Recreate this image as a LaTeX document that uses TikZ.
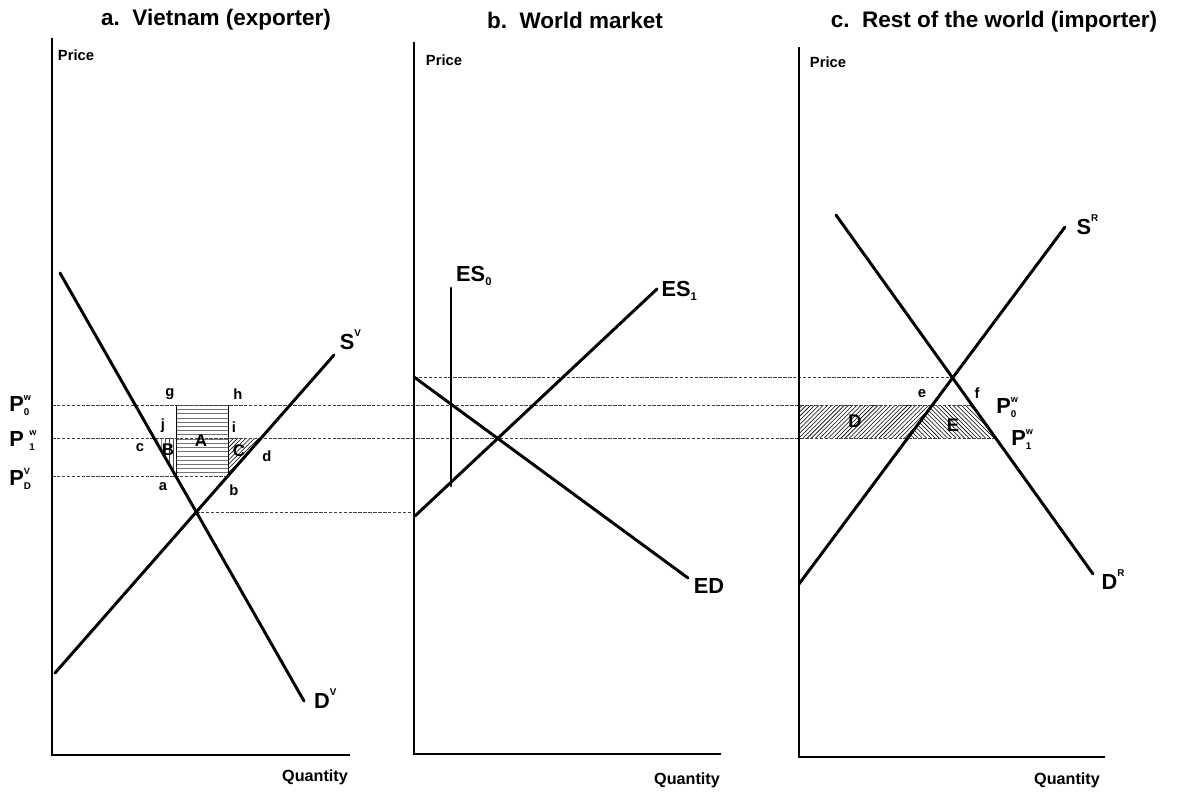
\documentclass[tikz,border=0pt]{standalone}
\usepackage{fontspec}
\setmainfont{Liberation Sans}
\usetikzlibrary{patterns, positioning}

\newcommand{\supof}[2]{#1\smash{\raisebox{0.6em}{\fontsize{7}{7}\selectfont #2}}}
\newcommand{\subof}[2]{#1\smash{\raisebox{-0.2em}{\fontsize{8}{8}\selectfont #2}}}
\newcommand{\pricelab}[4][0pt]{#2\hspace{#1}\makebox[0pt][l]{\smash{\raisebox{0.5em}{\fontsize{6.5}{6.5}\selectfont #3}}}\smash{\raisebox{-0.2em}{\fontsize{7}{7}\selectfont #4}}}

\begin{document}
\begin{tikzpicture}[x=0.025cm, y=-0.025cm,
    curve/.style={line width=2.1pt, line cap=round},
    axis/.style={line width=2.1pt},
    guide/.style={dashed, dash pattern=on 2.5pt off 1pt, line width=0.5pt, black!75},
    title/.style={font=\fontsize{16}{18}\selectfont\bfseries, inner sep=0pt},
    axlab/.style={font=\fontsize{10.5}{12}\selectfont\bfseries, inner sep=0pt},
    lbl/.style={font=\fontsize{15.5}{17}\selectfont\bfseries, inner sep=0pt, anchor=west},
    area/.style={font=\fontsize{12}{13}\selectfont\bfseries, inner sep=0pt},
    pt/.style={font=\fontsize{10.5}{12}\selectfont\bfseries, inner sep=0pt}]
  \useasboundingbox (0,0) rectangle (1190,794);

  % titles
  \node[title] (ta) at (216,20) {a.\ \ Vietnam (exporter)};
  \node[title] (tb) at (575,20) {b.\ \ World market};
  \node[title] (tc) at (994,22) {c.\ \ Rest of the world (importer)};

  % axes
  \coordinate (Ya) at (52,38);   \coordinate (Oa) at (52,755);  \coordinate (Xa) at (350,755);
  \coordinate (Yb) at (414,42);  \coordinate (Ob) at (414,754); \coordinate (Xb) at (721,754);
  \coordinate (Yc) at (799,47);  \coordinate (Oc) at (799,757); \coordinate (Xc) at (1105,757);
  \node[axlab] (pa) at (76,55) {Price};
  \node[axlab] (pb) at (444,60) {Price};
  \node[axlab] (pc) at (828,62) {Price};
  \node[axlab, font=\fontsize{11.5}{12}\selectfont\bfseries] (qa) at (315,777) {Quantity};
  \node[axlab, font=\fontsize{11.5}{12}\selectfont\bfseries] (qb) at (687,780) {Quantity};
  \node[axlab, font=\fontsize{11.5}{12}\selectfont\bfseries] (qc) at (1067,780) {Quantity};

  % curve ends
  \coordinate (DVtop) at (60,273);   \coordinate (DVbot) at (304,701);
  \coordinate (SVbot) at (55,673);   \coordinate (SVtop) at (334,355);
  \coordinate (ES0top) at (451,288); \coordinate (ES0bot) at (451,486);
  \coordinate (ES1bot) at (415,516); \coordinate (ES1top) at (657,289);
  \coordinate (EDtop) at (414,377);  \coordinate (EDbot) at (688,578);
  \coordinate (SRbot) at (799,584);  \coordinate (SRtop) at (1065,227);
  \coordinate (DRtop) at (836,215);  \coordinate (DRbot) at (1093,574);

  % points of panel a and c
  \coordinate (g) at (176,405); \coordinate (h) at (228,405);
  \coordinate (j) at (176,438); \coordinate (i) at (228,438);
  \coordinate (a) at (176,476); \coordinate (b) at (228,476);
  \coordinate (c) at (154,438); \coordinate (d) at (261,438);
  \coordinate (EqV) at (196,512);
  \coordinate (e0) at (932.4,405); \coordinate (e1) at (907.8,438);
  \coordinate (f0) at (972,405);   \coordinate (f1) at (995.7,438);
  \coordinate (EqR) at (952.5,377);

  % areas
  \fill[pattern=horizontal lines, pattern color=black!55] (g) rectangle (b);
  \fill[pattern=vertical lines, pattern color=black!70] (c) -- (j) -- (a) -- cycle;
  \fill[pattern=north east lines] (i) -- (d) -- (b) -- cycle;
  \fill[pattern=north east lines] (799,405) -- (e0) -- (e1) -- (799,438) -- cycle;
  \fill[pattern=north west lines] (e0) -- (f0) -- (f1) -- (e1) -- cycle;
  \draw[line width=0.6pt] (g) -- (a);
  \draw[line width=0.6pt] (h) -- (b);

  % price lines
  \draw[guide] (EDtop) -- (EqR);
  \draw[guide] (52,405) -- (f0);
  \draw[guide] (52,438) -- (f1);
  \draw[guide] (52,476) -- (b);
  \draw[guide] (EqV) -- (414,512);

  \draw[axis] (Ya) -- (Oa) -- (Xa);
  \draw[axis] (Yb) -- (Ob) -- (Xb);
  \draw[axis] (Yc) -- (Oc) -- (Xc);

  \draw[curve] (DVtop) -- (DVbot);
  \draw[curve] (SVbot) -- (SVtop);
  \draw[curve] (ES0top) -- (ES0bot);
  \draw[curve] (ES1bot) -- (ES1top);
  \draw[curve] (EDtop) -- (EDbot);
  \draw[curve] (SRbot) -- (SRtop);
  \draw[curve] (DRtop) -- (DRbot);

  % curve labels
  \node[lbl] (labDV) [right=7pt of DVbot] {\supof{D}{V}};
  \node[lbl] (labSV) [right=4pt of SVtop, yshift=9pt] {\supof{S}{V}};
  \node[lbl] (labES0) [right=3.5pt of ES0top, yshift=10pt] {\subof{ES}{0}};
  \node[lbl] (labES1) [right=3pt of ES1top] {\subof{ES}{1}};
  \node[lbl] (labED) [right=4pt of EDbot, yshift=-6pt] {ED};
  \node[lbl] (labSR) [right=8pt of SRtop] {\supof{S}{R}};
  \node[lbl] (labDR) [right=6pt of DRbot, yshift=-6pt] {\supof{D}{R}};

  % price labels
  \node[lbl] (P0a) at (9,404) {\pricelab{P}{w}{0}};
  \node[lbl] (P1a) at (9,439) {\pricelab[4pt]{P}{w}{1}};
  \node[lbl] (PDa) at (9,478) {\pricelab{P}{V}{D}};
  \node[lbl] (P0c) at (996,406) {\pricelab{P}{w}{0}};
  \node[lbl] (P1c) at (1011,438) {\pricelab{P}{w}{1}};

  % point and area letters
  \node[pt] (lg) at (170,394) {g};
  \node[pt] (lh) at (238,394) {h};
  \node[pt] (lj) at (163,426) {j};
  \node[pt] (li) at (234,427) {i};
  \node[pt] (lc) at (140,448) {c};
  \node[pt] (ld) at (267,456) {d};
  \node[pt] (la) at (163,487) {a};
  \node[pt] (lb) at (234,490) {b};
  \node[pt] (le) at (922,394) {e};
  \node[pt] (lf) at (977,393) {f};
  \node[area] (lA) at (201,441) {A};
  \node[area] (lB) at (168,450) {B};
  \node[area] (lC) at (239,451) {C};
  \node[area, font=\fontsize{13}{14}\selectfont\bfseries] (lD) at (855,421) {D};
  \node[area, font=\fontsize{13}{14}\selectfont\bfseries] (lE) at (953,425) {E};
\end{tikzpicture}
\end{document}
